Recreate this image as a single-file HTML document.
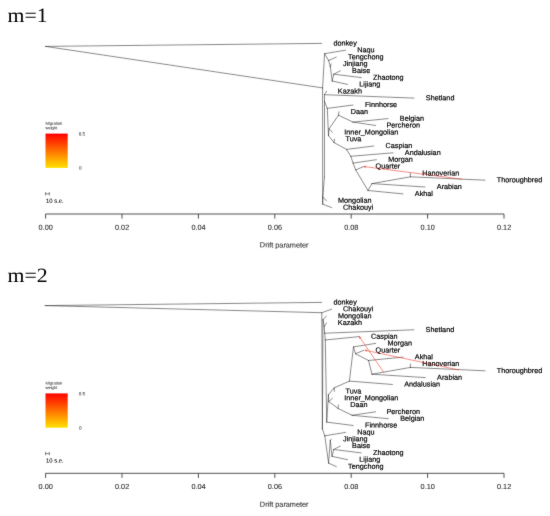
<!DOCTYPE html>
<html><head><meta charset="utf-8"><title>TreeMix</title>
<style>
html,body{margin:0;padding:0;background:#fff;}
svg{display:block;}
text{text-rendering:geometricPrecision;}
.t{font-family:"Liberation Serif",serif;font-size:20.3px;fill:#000;}
.n{font-family:"Liberation Sans",sans-serif;font-size:7.25px;fill:#000;stroke:#000;stroke-width:0.2px;}
.x{font-family:"Liberation Sans",sans-serif;font-size:7.3px;fill:#1a1a1a;stroke:#1a1a1a;stroke-width:0.05px;text-anchor:middle;}
.s{font-family:"Liberation Sans",sans-serif;font-size:4.15px;fill:#111;}
.k{font-family:"Liberation Sans",sans-serif;font-size:4.6px;fill:#111;}
.e{font-family:"Liberation Sans",sans-serif;font-size:5.9px;fill:#000;stroke:#000;stroke-width:0.06px;}
.l{fill:none;stroke:#333;stroke-width:0.56;stroke-linecap:round;}
.a{fill:none;stroke:#2a2a2a;stroke-width:0.8;}
.m{fill:none;stroke:#ea3426;stroke-width:0.55;stroke-linecap:round;}
</style></head>
<body>
<svg width="550" height="516" viewBox="0 0 550 516">
<defs><filter id="bl" x="0" y="0" width="550" height="516" filterUnits="userSpaceOnUse"><feConvolveMatrix order="3" kernelMatrix="0.012 0.06 0.012 0.06 0.712 0.06 0.012 0.06 0.012" edgeMode="duplicate" preserveAlpha="false"/></filter><linearGradient id="g" x1="0" y1="0" x2="0" y2="1"><stop offset="0" stop-color="#ff0000"/><stop offset="1" stop-color="#ffe100"/></linearGradient></defs>
<rect width="550" height="516" fill="#fff"/>
<g filter="url(#bl)"><g>
<text transform="translate(7.5 22.4) scale(1.075 1)" class="t">m=1</text>
<path d="M45.5 46.4L321.6 43.4M45.5 46.4L322.6 87.9M322.6 87.9L324.6 53.7M324.6 53.7L345.5 50.2M324.6 53.7L328.6 60.5M328.6 60.5L336.3 57.1M328.6 60.5L330.3 66.5M330.3 66.5L331.2 63.9M330.3 66.5L332.2 81.0M332.2 81.0L347.5 84.4M332.2 81.0L333.8 74.2M333.8 74.2L340.3 70.8M333.8 74.2L361.2 77.6M322.6 87.9L322.7 204.1M322.7 204.1L331.6 207.6M322.7 204.1L322.8 197.3M322.8 197.3L326.5 200.7M322.8 197.3L324.4 177.0M324.4 177.0L324.5 101.5M324.5 101.5L324.4 94.7M324.4 94.7L326.6 91.3M324.4 94.7L414.0 98.1M324.5 101.5L327.3 108.4M327.3 108.4L353.1 105.0M327.3 108.4L328.5 135.7M328.5 135.7L329.0 128.9M329.0 128.9L332.5 132.3M329.0 128.9L338.5 115.2M338.5 115.2L338.9 111.8M338.5 115.2L353.0 122.1M353.0 122.1L388.0 118.6M353.0 122.1L375.6 125.5M328.5 135.7L334.1 142.6M334.1 142.6L334.4 139.2M334.1 142.6L346.5 149.4M346.5 149.4L373.8 146.0M346.5 149.4L350.8 156.3M350.8 156.3L393.0 152.8M350.8 156.3L353.1 163.1M353.1 163.1L376.4 159.7M353.1 163.1L355.7 169.9M355.7 169.9L363.8 166.5M355.7 169.9L368.0 190.5M368.0 190.5L403.0 193.9M368.0 190.5L372.0 183.6M372.0 183.6L425.0 187.0M372.0 183.6L410.4 176.8M410.4 176.8L410.4 173.4M410.4 176.8L485.0 180.2" class="l"/>
<path d="M462.0 179.2L364.3 166.6" class="m"/>
<path d="M364.3 166.6L365.6 167.5" class="m"/>
<path d="M364.3 166.6L365.8 166.1" class="m"/>
<text x="333.4" y="45.5" transform="rotate(0.05 333.4 45.5)" class="n">donkey</text>
<text x="357.3" y="52.3" transform="rotate(0.05 357.3 52.3)" class="n">Naqu</text>
<text x="348.1" y="59.2" transform="rotate(0.05 348.1 59.2)" class="n">Tengchong</text>
<text x="343.0" y="66.0" transform="rotate(0.05 343.0 66.0)" class="n">Jinjiang</text>
<text x="352.1" y="72.9" transform="rotate(0.05 352.1 72.9)" class="n">Baise</text>
<text x="373.0" y="79.7" transform="rotate(0.05 373.0 79.7)" class="n">Zhaotong</text>
<text x="359.3" y="86.5" transform="rotate(0.05 359.3 86.5)" class="n">Lijiang</text>
<text x="337.8" y="93.4" transform="rotate(0.05 337.8 93.4)" class="n">Kazakh</text>
<text x="425.8" y="100.2" transform="rotate(0.05 425.8 100.2)" class="n">Shetland</text>
<text x="364.9" y="107.1" transform="rotate(0.05 364.9 107.1)" class="n">Finnhorse</text>
<text x="350.7" y="113.9" transform="rotate(0.05 350.7 113.9)" class="n">Daan</text>
<text x="399.8" y="120.7" transform="rotate(0.05 399.8 120.7)" class="n">Belgian</text>
<text x="386.5" y="127.6" transform="rotate(0.05 386.5 127.6)" class="n">Percheron</text>
<text x="344.3" y="134.4" transform="rotate(0.05 344.3 134.4)" class="n">Inner_Mongolian</text>
<text x="345.5" y="141.3" transform="rotate(0.05 345.5 141.3)" class="n">Tuva</text>
<text x="385.6" y="148.1" transform="rotate(0.05 385.6 148.1)" class="n">Caspian</text>
<text x="404.8" y="154.9" transform="rotate(0.05 404.8 154.9)" class="n">Andalusian</text>
<text x="388.2" y="161.8" transform="rotate(0.05 388.2 161.8)" class="n">Morgan</text>
<text x="375.6" y="168.6" transform="rotate(0.05 375.6 168.6)" class="n">Quarter</text>
<text x="422.2" y="175.5" transform="rotate(0.05 422.2 175.5)" class="n">Hanoverian</text>
<text x="496.8" y="182.3" transform="rotate(0.05 496.8 182.3)" class="n">Thoroughbred</text>
<text x="436.8" y="189.1" transform="rotate(0.05 436.8 189.1)" class="n">Arabian</text>
<text x="414.8" y="196.0" transform="rotate(0.05 414.8 196.0)" class="n">Akhal</text>
<text x="338.0" y="202.8" transform="rotate(0.05 338.0 202.8)" class="n">Mongolian</text>
<text x="343.1" y="209.7" transform="rotate(0.05 343.1 209.7)" class="n">Chakouyi</text>
<text x="45.4" y="124.7" transform="rotate(0.05 45 124.7)" class="s">Migration</text>
<text x="45.4" y="129.3" transform="rotate(0.05 45 129.3)" class="s">weight</text>
<rect x="45.5" y="133.6" width="22.2" height="34.3" fill="url(#g)"/>
<text x="78.7" y="135.5" transform="rotate(0.05 78 135.5)" class="k">0.5</text>
<text x="78.9" y="169.6" transform="rotate(0.05 78 169.6)" class="k">0</text>
<path d="M45.6 193.8H49.3M45.6 192.5V195.1M49.3 192.5V195.1" class="l"/>
<text x="46.0" y="202.8" transform="rotate(0.05 46 202.8)" class="e">10 s.e.</text>
<path d="M45.6 214.0H504M45.6 214.0v4.6M122.0 214.0v4.6M198.4 214.0v4.6M274.8 214.0v4.6M351.2 214.0v4.6M427.6 214.0v4.6M504.0 214.0v4.6" class="a"/>
<text x="45.7" y="229.7" transform="rotate(0.05 45.6 230.0)" class="x">0.00</text>
<text x="122.1" y="229.7" transform="rotate(0.05 122.0 230.0)" class="x">0.02</text>
<text x="198.5" y="229.7" transform="rotate(0.05 198.4 230.0)" class="x">0.04</text>
<text x="274.9" y="229.7" transform="rotate(0.05 274.8 230.0)" class="x">0.06</text>
<text x="351.3" y="229.7" transform="rotate(0.05 351.2 230.0)" class="x">0.08</text>
<text x="427.7" y="229.7" transform="rotate(0.05 427.6 230.0)" class="x">0.10</text>
<text x="504.1" y="229.7" transform="rotate(0.05 504.0 230.0)" class="x">0.12</text>
<text x="284.2" y="247.4" transform="rotate(0.05 284 247.4)" class="x">Drift parameter</text>
<text transform="translate(7.5 281.7) scale(1.075 1)" class="t">m=2</text>
<path d="M45.2 305.6L321.6 302.4M45.2 305.6L321.8 312.7M321.8 312.7L331.6 309.2M321.8 312.7L322.4 428.9M322.4 428.9L323.0 319.5M322.4 428.9L324.8 435.8M323.0 319.5L326.5 316.1M323.0 319.5L324.2 326.3M324.2 326.3L326.6 322.9M324.2 326.3L324.7 333.2M324.7 333.2L413.8 329.8M324.7 333.2L325.3 340.0M325.3 340.0L359.2 336.6M325.3 340.0L326.7 422.1M326.7 422.1L353.2 425.5M326.7 422.1L328.4 394.7M328.4 394.7L328.8 401.6M328.8 401.6L332.5 398.2M328.8 401.6L338.0 408.4M338.0 408.4L338.4 405.0M338.0 408.4L352.1 415.3M352.1 415.3L375.6 411.8M352.1 415.3L388.4 418.7M328.4 394.7L334.1 387.9M334.1 387.9L334.4 391.3M334.1 387.9L349.4 381.1M349.4 381.1L392.4 384.5M349.4 381.1L353.5 346.9M353.5 346.9L375.6 343.4M353.5 346.9L355.5 353.7M355.5 353.7L363.8 350.3M355.5 353.7L368.5 360.5M368.5 360.5L403.0 357.1M368.5 360.5L372.0 374.2M372.0 374.2L425.3 377.6M372.0 374.2L410.4 367.4M410.4 367.4L410.4 364.0M410.4 367.4L485.0 370.8M324.8 435.8L345.5 432.4M324.8 435.8L328.6 463.1M328.6 463.1L336.3 466.6M328.6 463.1L330.3 440.6M330.3 440.6L331.2 439.2M330.3 440.6L332.0 456.3M332.0 456.3L347.5 459.7M332.0 456.3L333.8 449.5M333.8 449.5L340.3 446.0M333.8 449.5L361.2 452.9" class="l"/>
<path d="M383.9 372.6L359.5 336.9" class="m"/>
<path d="M359.5 336.9L359.7 338.5" class="m"/>
<path d="M359.5 336.9L360.9 337.7" class="m"/>
<path d="M458.6 369.9L365.4 350.3" class="m"/>
<path d="M365.4 350.3L366.7 351.3" class="m"/>
<path d="M365.4 350.3L367.0 349.9" class="m"/>
<text x="333.4" y="304.5" transform="rotate(0.05 333.4 304.5)" class="n">donkey</text>
<text x="343.1" y="311.3" transform="rotate(0.05 343.1 311.3)" class="n">Chakouyi</text>
<text x="338.0" y="318.2" transform="rotate(0.05 338.0 318.2)" class="n">Mongolian</text>
<text x="337.8" y="325.0" transform="rotate(0.05 337.8 325.0)" class="n">Kazakh</text>
<text x="425.6" y="331.9" transform="rotate(0.05 425.6 331.9)" class="n">Shetland</text>
<text x="371.0" y="338.7" transform="rotate(0.05 371.0 338.7)" class="n">Caspian</text>
<text x="387.4" y="345.5" transform="rotate(0.05 387.4 345.5)" class="n">Morgan</text>
<text x="375.6" y="352.4" transform="rotate(0.05 375.6 352.4)" class="n">Quarter</text>
<text x="414.8" y="359.2" transform="rotate(0.05 414.8 359.2)" class="n">Akhal</text>
<text x="422.2" y="366.1" transform="rotate(0.05 422.2 366.1)" class="n">Hanoverian</text>
<text x="496.8" y="372.9" transform="rotate(0.05 496.8 372.9)" class="n">Thoroughbred</text>
<text x="437.1" y="379.7" transform="rotate(0.05 437.1 379.7)" class="n">Arabian</text>
<text x="404.2" y="386.6" transform="rotate(0.05 404.2 386.6)" class="n">Andalusian</text>
<text x="345.5" y="393.4" transform="rotate(0.05 345.5 393.4)" class="n">Tuva</text>
<text x="344.3" y="400.3" transform="rotate(0.05 344.3 400.3)" class="n">Inner_Mongolian</text>
<text x="350.2" y="407.1" transform="rotate(0.05 350.2 407.1)" class="n">Daan</text>
<text x="386.5" y="413.9" transform="rotate(0.05 386.5 413.9)" class="n">Percheron</text>
<text x="400.2" y="420.8" transform="rotate(0.05 400.2 420.8)" class="n">Belgian</text>
<text x="365.0" y="427.6" transform="rotate(0.05 365.0 427.6)" class="n">Finnhorse</text>
<text x="357.3" y="434.5" transform="rotate(0.05 357.3 434.5)" class="n">Naqu</text>
<text x="343.0" y="441.3" transform="rotate(0.05 343.0 441.3)" class="n">Jinjiang</text>
<text x="352.1" y="448.1" transform="rotate(0.05 352.1 448.1)" class="n">Baise</text>
<text x="373.0" y="455.0" transform="rotate(0.05 373.0 455.0)" class="n">Zhaotong</text>
<text x="359.3" y="461.8" transform="rotate(0.05 359.3 461.8)" class="n">Lijiang</text>
<text x="348.1" y="468.7" transform="rotate(0.05 348.1 468.7)" class="n">Tengchong</text>
<text x="45.4" y="384.5" transform="rotate(0.05 45 384.5)" class="s">Migration</text>
<text x="45.4" y="389.1" transform="rotate(0.05 45 389.1)" class="s">weight</text>
<rect x="45.5" y="393.4" width="22.2" height="34.3" fill="url(#g)"/>
<text x="78.7" y="395.3" transform="rotate(0.05 78 395.3)" class="k">0.5</text>
<text x="78.9" y="429.4" transform="rotate(0.05 78 429.4)" class="k">0</text>
<path d="M45.6 453.6H49.3M45.6 452.3V454.9M49.3 452.3V454.9" class="l"/>
<text x="46.0" y="462.6" transform="rotate(0.05 46 462.6)" class="e">10 s.e.</text>
<path d="M45.6 473.3H504M45.6 473.3v4.6M122.0 473.3v4.6M198.4 473.3v4.6M274.8 473.3v4.6M351.2 473.3v4.6M427.6 473.3v4.6M504.0 473.3v4.6" class="a"/>
<text x="45.7" y="489.0" transform="rotate(0.05 45.6 489.3)" class="x">0.00</text>
<text x="122.1" y="489.0" transform="rotate(0.05 122.0 489.3)" class="x">0.02</text>
<text x="198.5" y="489.0" transform="rotate(0.05 198.4 489.3)" class="x">0.04</text>
<text x="274.9" y="489.0" transform="rotate(0.05 274.8 489.3)" class="x">0.06</text>
<text x="351.3" y="489.0" transform="rotate(0.05 351.2 489.3)" class="x">0.08</text>
<text x="427.7" y="489.0" transform="rotate(0.05 427.6 489.3)" class="x">0.10</text>
<text x="504.1" y="489.0" transform="rotate(0.05 504.0 489.3)" class="x">0.12</text>
<text x="284.2" y="506.7" transform="rotate(0.05 284 506.7)" class="x">Drift parameter</text>
</g></g>
</svg>
</body></html>
